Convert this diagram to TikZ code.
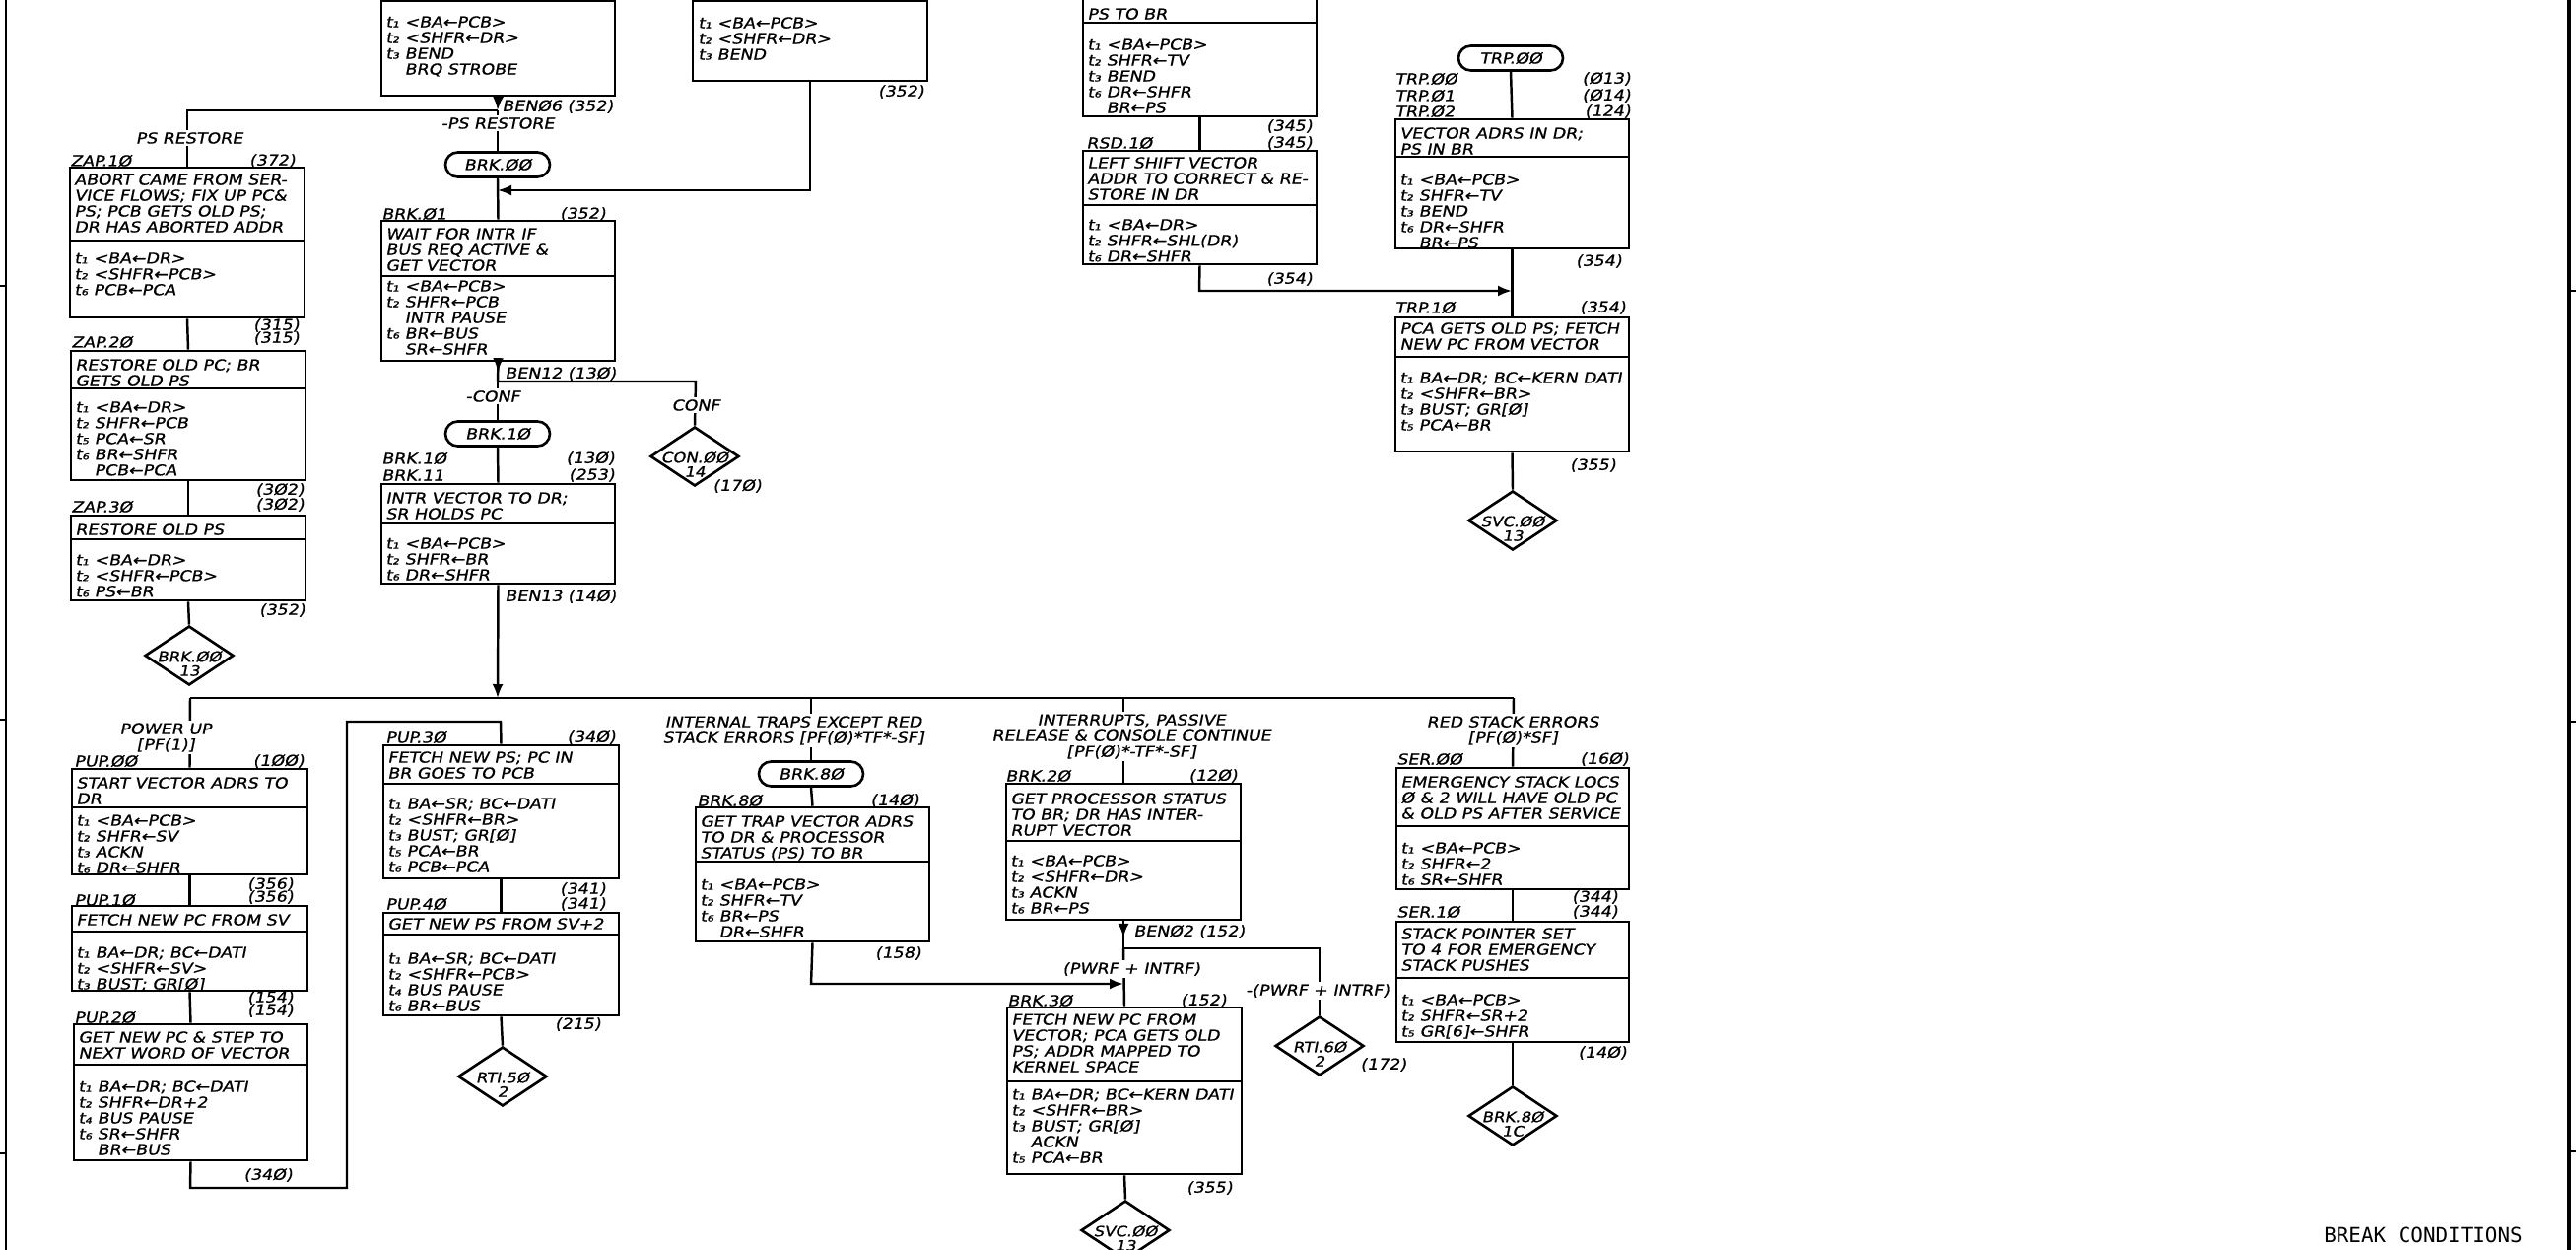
\documentclass[tikz,border=0pt]{standalone}
\usepackage{fontspec}
\usetikzlibrary{arrows.meta, shapes.geometric, fit, decorations.markings}
\newfontfamily\handfont{DejaVu Sans}[FakeSlant=0.2, FakeStretch=1.15, FakeBold=0.9]
\newfontfamily\typefont{DejaVu Sans Mono}
% box with a title part and a timing part: name, left, top, right, divider, bottom
\newcommand{\flowbox}[6]{%
  \node[boxframe, fit={(#2,#3) (#4,#6)}] (#1) {};
  \draw[divline] (#2,#5) -- (#4,#5);
}

\begin{document}
\begin{tikzpicture}[
  x=0.02cm,
  y=-0.02cm,
  hand/.style={font={\handfont\fontsize{8.6}{9.1}\selectfont\lineskiplimit=-20pt}, text=black},
  flow/.style={line width=1.4pt},
  boxframe/.style={draw, line width=1.5pt, inner sep=0pt},
  divline/.style={line width=1.5pt},
  boxtext/.style={hand, anchor=north west, inner sep=0pt, align=left},
  tag/.style={hand, inner sep=0pt},
  onwire/.style={hand, fill=white, inner sep=1.5pt, align=center},
  term/.style={hand, draw, line width=1.5pt, rounded corners=0.25cm,
    minimum width=2.12cm, minimum height=0.5cm, inner sep=0pt},
  offpage/.style={draw, diamond, line width=1.5pt, minimum width=1.8cm,
    minimum height=1.2cm, inner sep=0pt},
  dialabel/.style={font={\handfont\fontsize{8.2}{8.2}\selectfont}, align=center,
    inner sep=0pt, yshift=-0.16cm},
  tip/.style={-{Latex[length=0.28cm, width=0.22cm]}},
  midtip/.style={postaction={decorate}, decoration={markings,
    mark=at position #1 with {\arrow{Latex[length=0.28cm, width=0.22cm]}}}},
  border/.style={line width=1.4pt}
]
  \clip (0,0) rectangle (2614,1268);

  % ---- sheet border ---------------------------------------------------
  \draw[border] (6,0) -- (6,1268);
  \draw[border] (0,290) -- (6,290);
  \draw[border] (0,730) -- (6,730);
  \draw[border] (0,1170) -- (6,1170);
  \draw[border, line width=2pt] (2607,0) -- (2607,1268);
  \draw[border] (2607,295) -- (2614,295);
  \draw[border] (2607,732) -- (2614,732);
  \draw[border] (2607,1168) -- (2614,1168);
  \node[font={\typefont\fontsize{11.9}{12}\selectfont}, inner sep=0pt] (title)
    at (2459,1253) {BREAK CONDITIONS};

  % ---- boxes running in from the top edge -----------------------------
  \flowbox{brqbox}{387}{-40}{624}{1}{97}
  \node[boxtext] (brqboxb) at (391,16)
    {t₁ <BA←PCB>\\t₂ <SHFR←DR>\\t₃ BEND\\\phantom{t₃ }BRQ STROBE};
  \flowbox{bendbox}{703}{-40}{941}{1}{82}
  \node[boxtext] (bendboxb) at (708,17) {t₁ <BA←PCB>\\t₂ <SHFR←DR>\\t₃ BEND};
  \node[tag, anchor=east] (bendboxn) at (938,93) {(352)};
  \flowbox{tvbox}{1099}{-40}{1336}{23}{118}
  \node[boxtext] (tvboxa) at (1103,8) {PS TO BR};
  \node[boxtext] (tvboxb) at (1103,39)
    {t₁ <BA←PCB>\\t₂ SHFR←TV\\t₃ BEND\\t₆ DR←SHFR\\\phantom{t₆ }BR←PS};

  % ---- PS restore and BRK.00 ------------------------------------------
  \coordinate (psjoin) at (505,112);
  \coordinate (psleft) at (190,112);
  \node[tag, anchor=west] (ben06) at (509,108) {BENØ6 (352)};
  \node[onwire] (psrest) at (192,140) {PS RESTORE};
  \node[onwire] (npsrest) at (505,125) {-PS RESTORE};
  \node[term] (brk00t) at (505,167) {BRK.ØØ};

  \node[tag, anchor=west] (zap10l) at (71,163) {ZAP.1Ø};
  \node[tag, anchor=east] (zap10n) at (300,163) {(372)};
  \flowbox{zapten}{71}{170}{309}{244}{322}
  \node[boxtext] (zaptena) at (75,176)
    {ABORT CAME FROM SER-\\VICE FLOWS; FIX UP PC\&\\PS; PCB GETS OLD PS;\\DR HAS ABORTED ADDR};
  \node[boxtext] (zaptenb) at (75,256) {t₁ <BA←DR>\\t₂ <SHFR←PCB>\\t₆ PCB←PCA};

  \node[tag, anchor=east] (zap20n1) at (304,330) {(315)};
  \node[tag, anchor=east] (zap20n2) at (304,343) {(315)};
  \node[tag, anchor=west] (zap20l) at (72,347) {ZAP.2Ø};
  \flowbox{zaptwo}{72}{356}{310}{394}{487}
  \node[boxtext] (zaptwoa) at (76,364) {RESTORE OLD PC; BR\\GETS OLD PS};
  \node[boxtext] (zaptwob) at (76,407)
    {t₁ <BA←DR>\\t₂ SHFR←PCB\\t₅ PCA←SR\\t₆ BR←SHFR\\\phantom{t₆ }PCB←PCA};

  \node[tag, anchor=east] (zap30n1) at (309,497) {(3Ø2)};
  \node[tag, anchor=east] (zap30n2) at (309,512) {(3Ø2)};
  \node[tag, anchor=west] (zap30l) at (72,514) {ZAP.3Ø};
  \flowbox{zapthree}{72}{523}{310}{547}{609}
  \node[boxtext] (zapthreea) at (76,531) {RESTORE OLD PS};
  \node[boxtext] (zapthreeb) at (76,562) {t₁ <BA←DR>\\t₂ <SHFR←PCB>\\t₆ PS←BR};
  \node[tag, anchor=east] (zap30n3) at (310,619) {(352)};
  \node[offpage, label={[dialabel]center:BRK.ØØ\\13}] (brkdia) at (192,665) {};

  % ---- wait for interrupt ---------------------------------------------
  \node[tag, anchor=west] (waitl) at (387,217) {BRK.Ø1};
  \node[tag, anchor=east] (waitn) at (615,217) {(352)};
  \flowbox{wait}{387}{224}{624}{280}{366}
  \node[boxtext] (waita) at (391,231) {WAIT FOR INTR IF\\BUS REQ ACTIVE \&\\GET VECTOR};
  \node[boxtext] (waitb) at (391,284)
    {t₁ <BA←PCB>\\t₂ SHFR←PCB\\\phantom{t₂ }INTR PAUSE\\t₆ BR←BUS\\\phantom{t₆ }SR←SHFR};

  \coordinate (confjoin) at (505,387);
  \coordinate (confright) at (706,387);
  \node[tag, anchor=west] (ben12) at (512,379) {BEN12 (13Ø)};
  \node[onwire] (nconf) at (500,402) {-CONF};
  \node[onwire] (conf) at (706,411) {CONF};
  \node[offpage, label={[dialabel]center:CON.ØØ\\14}] (condia) at (705,463) {};
  \node[tag, anchor=west] (condian) at (723,493) {(17Ø)};
  \node[term] (brk10t) at (505,440) {BRK.1Ø};

  \node[tag, anchor=west] (intrl1) at (387,465) {BRK.1Ø};
  \node[tag, anchor=east] (intrn1) at (624,465) {(13Ø)};
  \node[tag, anchor=west] (intrl2) at (387,482) {BRK.11};
  \node[tag, anchor=east] (intrn2) at (624,482) {(253)};
  \flowbox{intr}{387}{491}{624}{531}{592}
  \node[boxtext] (intra) at (391,499) {INTR VECTOR TO DR;\\SR HOLDS PC};
  \node[boxtext] (intrb) at (391,545) {t₁ <BA←PCB>\\t₂ SHFR←BR\\t₆ DR←SHFR};
  \node[tag, anchor=west] (ben13) at (512,605) {BEN13 (14Ø)};

  % ---- top right: trap vector ------------------------------------------
  \node[tag, anchor=east] (rsdn1) at (1332,128) {(345)};
  \node[tag, anchor=east] (rsdn2) at (1332,145) {(345)};
  \node[tag, anchor=west] (rsdl) at (1102,145) {RSD.1Ø};
  \flowbox{rsd}{1099}{153}{1336}{208}{268}
  \node[boxtext] (rsda) at (1103,159) {LEFT SHIFT VECTOR\\ADDR TO CORRECT \& RE-\\STORE IN DR};
  \node[boxtext] (rsdb) at (1103,222) {t₁ <BA←DR>\\t₂ SHFR←SHL(DR)\\t₆ DR←SHFR};
  \node[tag, anchor=east] (rsdn3) at (1332,283) {(354)};
  \coordinate (rsdturn) at (1217,295);
  \coordinate (rsdjoin) at (1534,295);

  \node[term] (trp00t) at (1533,59) {TRP.ØØ};
  \node[tag, anchor=west] (trpl0) at (1415,80) {TRP.ØØ};
  \node[tag, anchor=west] (trpl1) at (1415,97) {TRP.Ø1};
  \node[tag, anchor=west] (trpl2) at (1415,113) {TRP.Ø2};
  \node[tag, anchor=east] (trpn0) at (1655,80) {(Ø13)};
  \node[tag, anchor=east] (trpn1) at (1655,97) {(Ø14)};
  \node[tag, anchor=east] (trpn2) at (1655,113) {(124)};
  \flowbox{trp}{1416}{121}{1653}{159}{252}
  \node[boxtext] (trpa) at (1420,129) {VECTOR ADRS IN DR;\\PS IN BR};
  \node[boxtext] (trpb) at (1420,176)
    {t₁ <BA←PCB>\\t₂ SHFR←TV\\t₃ BEND\\t₆ DR←SHFR\\\phantom{t₆ }BR←PS};
  \node[tag, anchor=east] (trpn3) at (1646,265) {(354)};

  \node[tag, anchor=west] (trptenl) at (1415,312) {TRP.1Ø};
  \node[tag, anchor=east] (trptenn) at (1650,312) {(354)};
  \flowbox{trpten}{1416}{322}{1653}{362}{458}
  \node[boxtext] (trptena) at (1420,327) {PCA GETS OLD PS; FETCH\\NEW PC FROM VECTOR};
  \node[boxtext] (trptenb) at (1420,377)
    {t₁ BA←DR; BC←KERN DATI\\t₂ <SHFR←BR>\\t₃ BUST; GR[Ø]\\t₅ PCA←BR};
  \node[tag, anchor=east] (trptenn2) at (1640,472) {(355)};
  \node[offpage, label={[dialabel]center:SVC.ØØ\\13}] (svcdia) at (1535,528) {};

  % ---- power up ---------------------------------------------------------
  \coordinate (bigjoin) at (505,708);
  \coordinate (bigleft) at (193,708);
  \coordinate (bigright) at (1536,708);
  \node[onwire] (pwrup) at (168,748) {POWER UP\\{[}PF(1)]};
  \node[tag, anchor=west] (pup00l) at (75,772) {PUP.ØØ};
  \node[tag, anchor=east] (pup00n) at (309,772) {(1ØØ)};
  \flowbox{pupzero}{73}{780}{312}{819}{887}
  \node[boxtext] (pupzeroa) at (77,788) {START VECTOR ADRS TO\\DR};
  \node[boxtext] (pupzerob) at (77,826) {t₁ <BA←PCB>\\t₂ SHFR←SV\\t₃ ACKN\\t₆ DR←SHFR};

  \node[tag, anchor=east] (pup10n1) at (298,897) {(356)};
  \node[tag, anchor=east] (pup10n2) at (298,910) {(356)};
  \node[tag, anchor=west] (pup10l) at (75,913) {PUP.1Ø};
  \flowbox{pupone}{73}{919}{312}{945}{1005}
  \node[boxtext] (pupa) at (77,927) {FETCH NEW PC FROM SV};
  \node[boxtext] (pupb) at (77,960) {t₁ BA←DR; BC←DATI\\t₂ <SHFR←SV>\\t₃ BUST; GR[Ø]};

  \node[tag, anchor=east] (pup20n1) at (298,1012) {(154)};
  \node[tag, anchor=east] (pup20n2) at (298,1025) {(154)};
  \node[tag, anchor=west] (pup20l) at (75,1032) {PUP.2Ø};
  \flowbox{puptwo}{75}{1039}{312}{1080}{1177}
  \node[boxtext] (puptwoa) at (79,1046) {GET NEW PC \& STEP TO\\NEXT WORD OF VECTOR};
  \node[boxtext] (puptwob) at (79,1096)
    {t₁ BA←DR; BC←DATI\\t₂ SHFR←DR+2\\t₄ BUS PAUSE\\t₆ SR←SHFR\\\phantom{t₆ }BR←BUS};
  \node[tag] (pup20n3) at (272,1192) {(34Ø)};
  \coordinate (loopa) at (193,1205);
  \coordinate (loopb) at (352,1205);
  \coordinate (loopc) at (352,732);
  \coordinate (loopd) at (508,732);

  \node[tag, anchor=west] (pup30l) at (391,748) {PUP.3Ø};
  \node[tag, anchor=east] (pup30n) at (625,748) {(34Ø)};
  \flowbox{pupthree}{389}{756}{628}{795}{891}
  \node[boxtext] (pupthreea) at (393,762) {FETCH NEW PS; PC IN\\BR GOES TO PCB};
  \node[boxtext] (pupthreeb) at (393,809)
    {t₁ BA←SR; BC←DATI\\t₂ <SHFR←BR>\\t₃ BUST; GR[Ø]\\t₅ PCA←BR\\t₆ PCB←PCA};

  \node[tag, anchor=east] (pup40n1) at (615,902) {(341)};
  \node[tag, anchor=east] (pup40n2) at (615,917) {(341)};
  \node[tag, anchor=west] (pup40l) at (391,917) {PUP.4Ø};
  \flowbox{pupfour}{389}{926}{628}{948}{1030}
  \node[boxtext] (pupfoura) at (393,931) {GET NEW PS FROM SV+2};
  \node[boxtext] (pupfourb) at (393,966)
    {t₁ BA←SR; BC←DATI\\t₂ <SHFR←PCB>\\t₄ BUS PAUSE\\t₆ BR←BUS};
  \node[tag, anchor=east] (pup40n3) at (610,1039) {(215)};
  \node[offpage, label={[dialabel]center:RTI.5Ø\\2}] (rtifive) at (510,1092) {};

  % ---- internal traps ---------------------------------------------------
  \node[onwire] (traps) at (805,741)
    {INTERNAL TRAPS EXCEPT RED\\STACK ERRORS [PF(Ø)*TF*-SF]};
  \node[term] (brk80t) at (823,785) {BRK.8Ø};
  \node[tag, anchor=west] (brk80l) at (707,812) {BRK.8Ø};
  \node[tag, anchor=east] (brk80n) at (933,812) {(14Ø)};
  \flowbox{brkeight}{706}{819}{943}{874}{955}
  \node[boxtext] (brkeighta) at (710,827)
    {GET TRAP VECTOR ADRS\\TO DR \& PROCESSOR\\STATUS (PS) TO BR};
  \node[boxtext] (brkeightb) at (710,891)
    {t₁ <BA←PCB>\\t₂ SHFR←TV\\t₆ BR←PS\\\phantom{t₆ }DR←SHFR};
  \node[tag, anchor=east] (brk80n2) at (935,967) {(158)};
  \coordinate (trapturn) at (823,998);
  \coordinate (trapjoin) at (1140,998);

  % ---- interrupts -------------------------------------------------------
  \node[onwire] (intrs) at (1148,747)
    {INTERRUPTS, PASSIVE\\RELEASE \& CONSOLE CONTINUE\\{[}PF(Ø)*-TF*-SF]};
  \node[tag, anchor=west] (brk20l) at (1020,787) {BRK.2Ø};
  \node[tag, anchor=east] (brk20n) at (1256,787) {(12Ø)};
  \flowbox{brktwo}{1021}{795}{1259}{853}{933}
  \node[boxtext] (brktwoa) at (1025,804)
    {GET PROCESSOR STATUS\\TO BR; DR HAS INTER-\\RUPT VECTOR};
  \node[boxtext] (brktwob) at (1025,867)
    {t₁ <BA←PCB>\\t₂ <SHFR←DR>\\t₃ ACKN\\t₆ BR←PS};
  \node[tag, anchor=west] (ben02) at (1150,945) {BENØ2 (152)};
  \coordinate (pwrjoin) at (1140,962);
  \coordinate (pwrright) at (1339,962);
  \node[onwire] (pwrf) at (1148,983) {(PWRF + INTRF)};
  \node[onwire] (npwrf) at (1337,1005) {-(PWRF + INTRF)};
  \node[offpage, label={[dialabel]center:RTI.6Ø\\2}] (rtisix) at (1339,1061) {};
  \node[tag, anchor=west] (rtisixn) at (1380,1080) {(172)};

  \node[tag, anchor=west] (brk30l) at (1022,1015) {BRK.3Ø};
  \node[tag, anchor=east] (brk30n) at (1245,1015) {(152)};
  \flowbox{brkthree}{1022}{1022}{1260}{1097}{1191}
  \node[boxtext] (brkthreea) at (1026,1028)
    {FETCH NEW PC FROM\\VECTOR; PCA GETS OLD\\PS; ADDR MAPPED TO\\KERNEL SPACE};
  \node[boxtext] (brkthreeb) at (1026,1104)
    {t₁ BA←DR; BC←KERN DATI\\t₂ <SHFR←BR>\\t₃ BUST; GR[Ø]\\\phantom{t₃ }ACKN\\t₅ PCA←BR};
  \node[tag, anchor=east] (brk30n2) at (1251,1205) {(355)};
  \node[offpage, label={[dialabel]center:SVC.ØØ\\13}] (svcdiab) at (1142,1248) {};

  % ---- red stack errors -------------------------------------------------
  \node[onwire] (redstack) at (1535,741) {RED STACK ERRORS\\{[}PF(Ø)*SF]};
  \node[tag, anchor=west] (ser00l) at (1417,770) {SER.ØØ};
  \node[tag, anchor=east] (ser00n) at (1653,770) {(16Ø)};
  \flowbox{serzero}{1417}{779}{1653}{838}{902}
  \node[boxtext] (serzeroa) at (1421,787)
    {EMERGENCY STACK LOCS\\Ø \& 2 WILL HAVE OLD PC\\\& OLD PS AFTER SERVICE};
  \node[boxtext] (serzerob) at (1421,854) {t₁ <BA←PCB>\\t₂ SHFR←2\\t₆ SR←SHFR};
  \node[tag, anchor=east] (ser10n1) at (1642,910) {(344)};
  \node[tag, anchor=east] (ser10n2) at (1642,925) {(344)};
  \node[tag, anchor=west] (ser10l) at (1417,925) {SER.1Ø};
  \flowbox{serone}{1417}{935}{1653}{992}{1057}
  \node[boxtext] (seronea) at (1421,941)
    {STACK POINTER SET\\TO 4 FOR EMERGENCY\\STACK PUSHES};
  \node[boxtext] (seroneb) at (1421,1008) {t₁ <BA←PCB>\\t₂ SHFR←SR+2\\t₅ GR[6]←SHFR};
  \node[tag, anchor=east] (ser10n3) at (1651,1068) {(14Ø)};
  \node[offpage, label={[dialabel]center:BRK.8Ø\\1C}] (brkdiab) at (1535,1132) {};

  % ---- connectors -------------------------------------------------------
  \draw[flow, tip] (brqbox.south) -- (psjoin);
  \draw[flow] (psjoin) -- (psleft) -- (zapten.north);
  \draw[flow] (psjoin) -- (brk00t.north);
  \draw[flow] (brk00t.south) -- (wait.north);
  \coordinate (bendturn) at (822,193);
  \coordinate (bendjoin) at (505,193);
  \draw[flow, tip] (bendbox.south) -- (bendturn) -- (bendjoin);
  \draw[flow] (zapten.south) -- (zaptwo.north);
  \draw[flow] (zaptwo.south) -- (zapthree.north);
  \draw[flow] (zapthree.south) -- (brkdia.north);

  \draw[flow, midtip=0.5] (wait.south) -- (confjoin);
  \draw[flow] (confjoin) -- (confright) -- (condia.north);
  \draw[flow] (confjoin) -- (brk10t.north);
  \draw[flow] (brk10t.south) -- (intr.north);
  \draw[flow, tip] (intr.south) -- (bigjoin);

  \draw[flow] (tvbox.south) -- (rsd.north);
  \draw[flow, tip] (rsd.south) -- (rsdturn) -- (rsdjoin);
  \draw[flow] (trp00t.south) -- (trp.north);
  \draw[flow] (trp.south) -- (trpten.north);
  \draw[flow] (trpten.south) -- (svcdia.north);

  \draw[flow] (bigleft) -- (bigright);
  \draw[flow] (bigleft) -- (pupzero.north);
  \draw[flow] (pupzero.south) -- (pupone.north);
  \draw[flow] (pupone.south) -- (puptwo.north);
  \draw[flow] (puptwo.south) -- (loopa) -- (loopb) -- (loopc) -- (loopd) -- (pupthree.north);
  \draw[flow] (pupthree.south) -- (pupfour.north);
  \draw[flow] (pupfour.south) -- (rtifive.north);

  \draw[flow] (bigjoin -| brk80t) -- (brk80t.north);
  \draw[flow] (brk80t.south) -- (brkeight.north);
  \draw[flow, tip] (brkeight.south) -- (trapturn) -- (trapjoin);

  \draw[flow] (bigjoin -| brktwo) -- (brktwo.north);
  \draw[flow, midtip=0.6] (brktwo.south) -- (pwrjoin);
  \draw[flow] (pwrjoin) -- (pwrright) -- (rtisix.north);
  \draw[flow] (pwrjoin) -- (brkthree.north);
  \draw[flow] (brkthree.south) -- (svcdiab.north);

  \draw[flow] (bigright) -- (serzero.north);
  \draw[flow] (serzero.south) -- (serone.north);
  \draw[flow] (serone.south) -- (brkdiab.north);

  % ---- labels sitting on the wires go on top ----------------------------
  \node[onwire] at (psrest) {PS RESTORE};
  \node[onwire] at (npsrest) {-PS RESTORE};
  \node[onwire] at (nconf) {-CONF};
  \node[onwire] at (conf) {CONF};
  \node[onwire] at (pwrup) {POWER UP\\{[}PF(1)]};
  \node[onwire] at (traps) {INTERNAL TRAPS EXCEPT RED\\STACK ERRORS [PF(Ø)*TF*-SF]};
  \node[onwire] at (intrs) {INTERRUPTS, PASSIVE\\RELEASE \& CONSOLE CONTINUE\\{[}PF(Ø)*-TF*-SF]};
  \node[onwire] at (pwrf) {(PWRF + INTRF)};
  \node[onwire] at (npwrf) {-(PWRF + INTRF)};
  \node[onwire] at (redstack) {RED STACK ERRORS\\{[}PF(Ø)*SF]};
\end{tikzpicture}
\end{document}
